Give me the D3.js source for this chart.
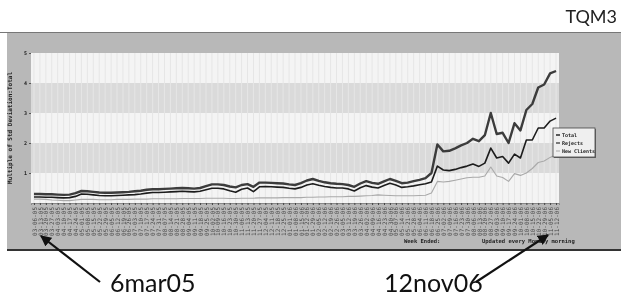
<!DOCTYPE html>
<html>
<head>
<meta charset="utf-8">
<script src="https://cdn.jsdelivr.net/npm/d3@7"></script>
<style>
  body { margin: 0; background: #fff; }
  svg { display: block; will-change: transform; }
  svg text { -webkit-font-smoothing: antialiased; }
</style>
</head>
<body>
<svg id="chart"></svg>
<script>
// Constants
const width = 621;
const height = 297;
const plot = { left: 31, right: 559, top: 53, bottom: 203 };

// Week ended dates (weekly, Sunday) from 6 Mar 2005 to 12 Nov 2006
const weeks = d3.timeWeek.range(new Date(2005, 2, 6), new Date(2006, 10, 13));
const yTicks = [1, 2, 3, 4, 5];
const seriesNames = ["Total", "Rejects", "New Clients"];

// Multiple of std deviation, one value per week
const total = [
  0.30, 0.30, 0.29, 0.29, 0.28, 0.27, 0.28, 0.33,
  0.40, 0.39, 0.37, 0.35, 0.34, 0.34, 0.35, 0.36, 0.37, 0.39, 0.41, 0.44, 0.46, 0.46, 0.47, 0.48, 0.49, 0.50, 0.49, 0.48, 0.50, 0.56,
  0.62, 0.62, 0.60, 0.55, 0.52, 0.60, 0.63, 0.54, 0.68, 0.68, 0.67, 0.66, 0.65, 0.62, 0.60, 0.66, 0.75, 0.80, 0.74, 0.69,
  0.66, 0.64, 0.63, 0.60, 0.54, 0.65, 0.73, 0.67, 0.64, 0.72, 0.80, 0.74, 0.66, 0.68, 0.73, 0.77, 0.83, 1.00,
  1.95, 1.72, 1.74, 1.82, 1.92, 2.00, 2.14, 2.06, 2.26, 3.00, 2.30, 2.34, 2.00, 2.66, 2.42, 3.10, 3.30, 3.85, 3.95, 4.32, 4.40
];
const rejects = [
  0.20, 0.20, 0.19, 0.19, 0.18, 0.17, 0.18, 0.22,
  0.30, 0.29, 0.27, 0.25, 0.24, 0.24, 0.25, 0.26, 0.27, 0.28, 0.30, 0.33, 0.35, 0.35, 0.36, 0.37, 0.38, 0.39, 0.38, 0.37, 0.39, 0.44,
  0.49, 0.49, 0.47, 0.41, 0.36, 0.46, 0.50, 0.38, 0.54, 0.55, 0.54, 0.53, 0.52, 0.49, 0.47, 0.52, 0.60, 0.64, 0.59, 0.55,
  0.52, 0.50, 0.50, 0.47, 0.40, 0.51, 0.58, 0.53, 0.50, 0.58, 0.66, 0.60, 0.52, 0.54, 0.57, 0.61, 0.64, 0.70,
  1.23, 1.10, 1.08, 1.12, 1.18, 1.23, 1.30, 1.22, 1.33, 1.83, 1.50, 1.55, 1.33, 1.63, 1.50, 2.10, 2.10, 2.50, 2.50, 2.73, 2.83
];
const newClients = [
  0.13, 0.13, 0.12, 0.10, 0.09, 0.08, 0.08, 0.10,
  0.12, 0.12, 0.12, 0.11, 0.11, 0.11, 0.12, 0.12, 0.12, 0.13, 0.13, 0.13, 0.14, 0.14, 0.14, 0.14, 0.14, 0.15, 0.15, 0.15, 0.15, 0.16,
  0.16, 0.16, 0.16, 0.15, 0.15, 0.16, 0.16, 0.16, 0.17, 0.17, 0.17, 0.17, 0.18, 0.18, 0.18, 0.18, 0.19, 0.19, 0.20, 0.20,
  0.21, 0.21, 0.21, 0.22, 0.22, 0.23, 0.24, 0.25, 0.27, 0.26, 0.25, 0.24, 0.24, 0.24, 0.24, 0.25, 0.26, 0.33,
  0.72, 0.70, 0.72, 0.76, 0.80, 0.84, 0.86, 0.86, 0.90, 1.20, 0.90, 0.85, 0.72, 0.98, 0.92, 1.00, 1.15, 1.35, 1.40, 1.52, 1.62
];

const smallFont = "'DejaVu Sans Mono', monospace";
const bigFont = "Lato, 'Open Sans', sans-serif";

function drawChart() {
  const svg = d3.select("#chart").attr("width", width).attr("height", height);

  // Scales
  const x = d3.scalePoint()
    .domain(weeks.map((d, i) => i))
    .range([plot.left, plot.right])
    .padding(0.5);
  const y = d3.scaleLinear().domain([0, 5]).range([plot.bottom, plot.top]);

  // Title top right
  svg.append("text")
    .attr("x", 617).attr("y", 23)
    .attr("text-anchor", "end")
    .style("font-family", bigFont).style("font-size", "18px").attr("fill", "#222")
    .text("TQM3");

  // Grey screenshot panel with shadow
  svg.append("rect").attr("x", 7).attr("y", 32).attr("width", 620).attr("height", 219)
    .attr("fill", "#333");
  svg.append("rect").attr("x", 7).attr("y", 32).attr("width", 620).attr("height", 217)
    .attr("fill", "#b8b8b8");
  svg.append("line").attr("x1", 0).attr("x2", width).attr("y1", 32.5).attr("y2", 32.5)
    .attr("stroke", "#777").attr("stroke-width", 1);

  // Plot background with alternating horizontal bands
  const bands = d3.range(0, 5);
  svg.append("g").selectAll("rect").data(bands).join("rect")
    .attr("x", plot.left)
    .attr("y", d => y(d + 1))
    .attr("width", plot.right - plot.left)
    .attr("height", d => y(d) - y(d + 1))
    .attr("fill", d => d % 2 === 0 ? "#f4f4f4" : "#dadada");

  // Vertical week grid
  svg.append("g").selectAll("line").data(weeks.map((d, i) => i)).join("line")
    .attr("x1", d => x(d)).attr("x2", d => x(d))
    .attr("y1", plot.top).attr("y2", plot.bottom)
    .attr("stroke", "#e6e6e6").attr("stroke-width", 1);

  // Y axis
  const yAxis = svg.append("g")
    .attr("transform", `translate(${plot.left},0)`)
    .call(d3.axisLeft(y).tickValues(yTicks).tickSize(2).tickPadding(2).tickFormat(d3.format("d")));
  yAxis.select(".domain").remove();
  yAxis.selectAll("line").attr("stroke", "#555");
  yAxis.selectAll("text").style("font-family", smallFont).style("font-size", "5px")
    .style("font-weight", "bold").attr("fill", "#222");

  // X axis with rotated week labels
  const fmt = d3.timeFormat("%m-%d-%y");
  const xAxis = svg.append("g")
    .attr("transform", `translate(0,${plot.bottom})`)
    .call(d3.axisBottom(x).tickSize(2).tickFormat(i => fmt(weeks[i])));
  xAxis.select(".domain").attr("stroke", "#888");
  xAxis.selectAll("line").attr("stroke", "#444");
  xAxis.selectAll("text")
    .attr("transform", "rotate(-90)")
    .attr("text-anchor", "end")
    .attr("x", -4).attr("y", 0).attr("dy", "0.35em")
    .style("font-family", smallFont).style("font-size", "6px")
    .attr("fill", "#4a4a4a");

  // Y axis title
  svg.append("text")
    .attr("transform", `translate(12,128) rotate(-90)`)
    .attr("text-anchor", "middle")
    .style("font-family", smallFont).style("font-size", "6px").style("font-weight", "bold")
    .attr("fill", "#222")
    .text("Multiple of Std Deviation:Total");

  // Footer texts inside panel
  svg.append("text").attr("x", 404).attr("y", 243)
    .style("font-family", smallFont).style("font-size", "5.5px").style("font-weight", "bold")
    .attr("fill", "#222").text("Week Ended:");
  svg.append("text").attr("x", 482).attr("y", 243)
    .style("font-family", smallFont).style("font-size", "5.5px").style("font-weight", "bold")
    .attr("fill", "#222").text("Updated every Monday morning");

  // Lines
  const series = [
    { name: seriesNames[0], values: total, color: "#3c3c3c", w: 2.4 },
    { name: seriesNames[1], values: rejects, color: "#1c1c1c", w: 1.6 },
    { name: seriesNames[2], values: newClients, color: "#a9a9a9", w: 1.1 }
  ];
  const line = d3.line().x((d, i) => x(i)).y(d => y(d));
  svg.append("g").selectAll("path").data(series.slice().reverse()).join("path")
    .attr("d", d => line(d.values))
    .attr("fill", "none")
    .attr("stroke", d => d.color)
    .attr("stroke-width", d => d.w)
    .attr("stroke-linejoin", "round");

  // Legend
  const lg = svg.append("g").attr("transform", "translate(553,128)");
  lg.append("rect").attr("x", 1).attr("y", 1).attr("width", 42).attr("height", 29).attr("fill", "#666");
  lg.append("rect").attr("width", 42).attr("height", 29).attr("fill", "#efefef")
    .attr("stroke", "#444").attr("stroke-width", 0.8);
  const items = lg.selectAll("g.item").data(series).join("g")
    .attr("transform", (d, i) => `translate(3,${7 + i * 8})`);
  items.append("line").attr("x1", 0).attr("x2", 4).attr("y1", 0).attr("y2", 0)
    .attr("stroke", d => d.color).attr("stroke-width", d => Math.max(1, d.w * 0.7));
  items.append("text").attr("x", 6).attr("y", 0).attr("dy", "0.35em")
    .style("font-family", smallFont).style("font-size", "5px").style("font-weight", "bold")
    .attr("fill", "#222").text(d => d.name);

  // Annotation arrows and dates
  svg.append("defs").append("marker")
    .attr("id", "head").attr("viewBox", "0 0 10 10").attr("refX", 9).attr("refY", 5)
    .attr("markerWidth", 5).attr("markerHeight", 5).attr("orient", "auto")
    .append("path").attr("d", "M0,0 L10,5 L0,10 z").attr("fill", "#111");
  const arrows = [
    { x1: 100, y1: 282, x2: 41, y2: 236 },
    { x1: 476, y1: 282, x2: 548, y2: 235 }
  ];
  svg.append("g").selectAll("line").data(arrows).join("line")
    .attr("x1", d => d.x1).attr("y1", d => d.y1).attr("x2", d => d.x2).attr("y2", d => d.y2)
    .attr("stroke", "#111").attr("stroke-width", 2.2).attr("marker-end", "url(#head)");

  svg.append("text").attr("x", 110).attr("y", 292)
    .style("font-family", bigFont).style("font-size", "25px").attr("fill", "#111")
    .text("6mar05");
  svg.append("text").attr("x", 384).attr("y", 292)
    .style("font-family", bigFont).style("font-size", "25px").attr("fill", "#111")
    .text("12nov06");
}

drawChart();
</script>
</body>
</html>
